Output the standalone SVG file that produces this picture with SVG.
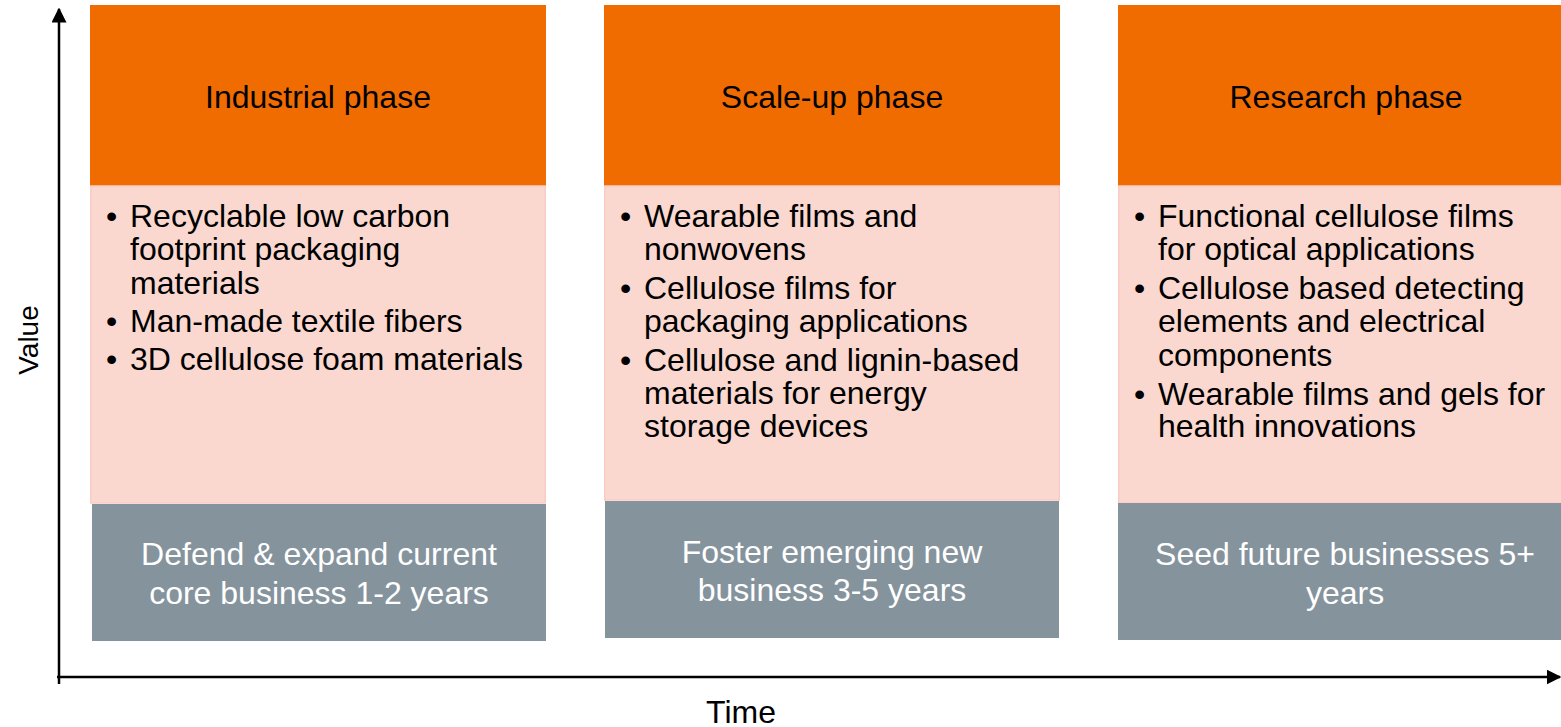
<svg xmlns="http://www.w3.org/2000/svg" width="1561" height="727" viewBox="0 0 1561 727">
<defs>
<style>
.hd{fill:#F06C00}
.bd{fill:#FAD8CF;stroke:#F8CEC4;stroke-width:1.5}
.ft{fill:#85939D}
text{font-family:"Liberation Sans",Arial,sans-serif;font-size:32px}
.t{fill:#000}
.c{text-anchor:middle}
.w{fill:#ffffff}
.ax{stroke:#000;stroke-width:2.5;fill:none}
</style>
<marker id="ah" viewBox="0 0 10 10" refX="9" refY="5" markerWidth="6" markerHeight="6" markerUnits="strokeWidth" orient="auto">
<path d="M0,0 L10,5 L0,10 z" fill="#000"/>
</marker>
</defs>
<rect width="1561" height="727" fill="#fff"/>
<g id="axes">
<line class="ax" x1="59" y1="684" x2="59" y2="9" marker-end="url(#ah)"/>
<line class="ax" x1="57" y1="677" x2="1560" y2="677" marker-end="url(#ah)"/>
<text x="28" y="340" class="c t" style="font-size:28px" transform="rotate(-90 28 340)" dy="10">Value</text>
<text x="741" y="723" class="c t">Time</text>
</g>
<g id="industrial">
<rect class="hd" x="90" y="5" width="456" height="181"/>
<rect class="bd" x="90.75" y="186" width="454.5" height="317"/>
<rect class="ft" x="92" y="504" width="454" height="137"/>
<text x="318" y="108" class="c t">Industrial phase</text>
<text class="t"><tspan x="106" y="227">•</tspan><tspan x="130" y="227">Recyclable low carbon</tspan><tspan x="130" y="260">footprint packaging</tspan><tspan x="130" y="294">materials</tspan><tspan x="106" y="332">•</tspan><tspan x="130" y="332">Man-made textile fibers</tspan><tspan x="106" y="370">•</tspan><tspan x="130" y="370">3D cellulose foam materials</tspan></text>
<text class="c w"><tspan x="319" y="565">Defend &amp; expand current</tspan><tspan x="319" y="604">core business 1-2 years</tspan></text>
</g>
<g id="scaleup">
<rect class="hd" x="604" y="5" width="456" height="181"/>
<rect class="bd" x="604.75" y="186" width="454.5" height="314"/>
<rect class="ft" x="605" y="501" width="454" height="137"/>
<text x="832" y="108" class="c t">Scale-up phase</text>
<text class="t"><tspan x="620" y="227">•</tspan><tspan x="644" y="227">Wearable films and</tspan><tspan x="644" y="260">nonwovens</tspan><tspan x="620" y="299">•</tspan><tspan x="644" y="299">Cellulose films for</tspan><tspan x="644" y="332">packaging applications</tspan><tspan x="620" y="371">•</tspan><tspan x="644" y="371">Cellulose and lignin-based</tspan><tspan x="644" y="404">materials for energy</tspan><tspan x="644" y="437">storage devices</tspan></text>
<text class="c w"><tspan x="832" y="563">Foster emerging new</tspan><tspan x="832" y="601">business 3-5 years</tspan></text>
</g>
<g id="research">
<rect class="hd" x="1118" y="5" width="443" height="181"/>
<rect class="bd" x="1118.75" y="186" width="443" height="317"/>
<rect class="ft" x="1118" y="503" width="443" height="137"/>
<text x="1346" y="108" class="c t">Research phase</text>
<text class="t"><tspan x="1134" y="227">•</tspan><tspan x="1158" y="227">Functional cellulose films</tspan><tspan x="1158" y="260">for optical applications</tspan><tspan x="1134" y="299">•</tspan><tspan x="1158" y="299">Cellulose based detecting</tspan><tspan x="1158" y="332">elements and electrical</tspan><tspan x="1158" y="366">components</tspan><tspan x="1134" y="405">•</tspan><tspan x="1158" y="405">Wearable films and gels for</tspan><tspan x="1158" y="437">health innovations</tspan></text>
<text class="c w"><tspan x="1345" y="565">Seed future businesses 5+</tspan><tspan x="1345" y="604">years</tspan></text>
</g>
</svg>
